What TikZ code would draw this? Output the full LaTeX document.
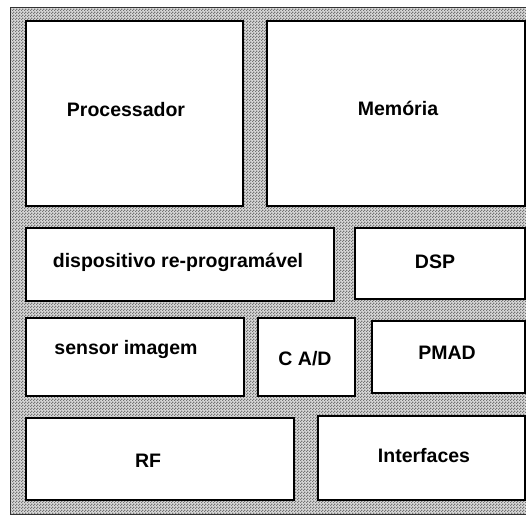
\documentclass[tikz,border=0pt]{standalone}
\usepackage{fontspec}
\setmainfont{Liberation Sans}
\usetikzlibrary{patterns}
\pgfdeclarepatternformonly{finechecker}{\pgfpointorigin}{\pgfqpoint{3pt}{3pt}}{\pgfqpoint{3pt}{3pt}}{%
  \pgfpathrectangle{\pgfpointorigin}{\pgfqpoint{1.5pt}{1.5pt}}%
  \pgfpathrectangle{\pgfqpoint{1.5pt}{1.5pt}}{\pgfqpoint{1.5pt}{1.5pt}}%
  \pgfusepath{fill}}
\begin{document}
\begin{tikzpicture}[x=1pt,y=-1pt,
  blk/.style={draw=black,line width=1.6pt,fill=white,inner sep=0pt},
  lbl/.style={font=\fontsize{19.5}{21}\selectfont\bfseries,inner sep=0pt,text=black}]
\useasboundingbox (0,0) rectangle (526,518);
\fill[white] (0,0) rectangle (526,518);
% textured ground
\fill[gray!30] (10,8) rectangle (530,514);
\fill[pattern=finechecker,pattern color=black!55] (10,8) rectangle (530,514);
\draw[black!80,line width=1pt] (530,8) -- (10,8) -- (10,514) -- (530,514);
% blocks
\node[blk,anchor=north west,minimum width=217pt,minimum height=185pt] (proc) at (25,20) {};
\node[blk,anchor=north west,minimum width=258pt,minimum height=185pt] (mem) at (266,20) {};
\node[blk,anchor=north west,minimum width=308pt,minimum height=73pt] (disp) at (25,227) {};
\node[blk,anchor=north west,minimum width=170pt,minimum height=71pt] (dsp) at (354,227) {};
\node[blk,anchor=north west,minimum width=218pt,minimum height=78pt] (sens) at (25,317) {};
\node[blk,anchor=north west,minimum width=97pt,minimum height=78pt] (cad) at (257,317) {};
\node[blk,anchor=north west,minimum width=153pt,minimum height=72pt] (pmad) at (371,320) {};
\node[blk,anchor=north west,minimum width=268pt,minimum height=82pt] (rf) at (25,417) {};
\node[blk,anchor=north west,minimum width=207pt,minimum height=84pt] (intf) at (317,415) {};
% labels
\node[lbl] (tproc) at (126,110) {Processador};
\node[lbl] (tmem) at (398,108) {Memória};
\node[lbl] (tdisp) at (178,262) {dispositivo re-programável};
\node[lbl] (tdsp) at (435,262) {DSP};
\node[lbl] (tsens) at (126,349) {sensor imagem};
\node[lbl] (tcad) at (305,359) {C A/D};
\node[lbl] (tpmad) at (447,353) {PMAD};
\node[lbl] (trf) at (148,461) {RF};
\node[lbl] (tintf) at (424,456) {Interfaces};
\end{tikzpicture}
\end{document}
